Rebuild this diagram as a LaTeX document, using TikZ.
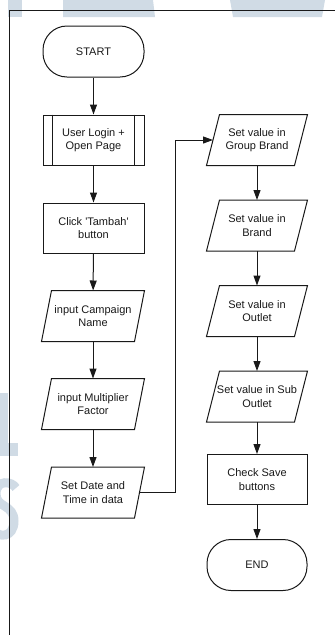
\documentclass[tikz,border=0pt]{standalone}
\usepackage{fontspec}
\setmainfont{Liberation Sans}
\usetikzlibrary{arrows.meta}
\definecolor{wmark}{RGB}{208,219,229}
\definecolor{ink}{RGB}{25,25,25}
\begin{document}
\begin{tikzpicture}[x=1pt,y=-1pt,
  fcline/.style={draw=ink, line width=1pt},
  fcbox/.style={fcline, font=\fontsize{11}{13.5}\selectfont, align=center,
    text=ink, inner sep=0pt},
  term/.style={fcbox, rectangle, rounded corners=24pt, minimum width=101pt, minimum height=51pt},
  proc/.style={fcbox, rectangle, minimum width=101pt, minimum height=50pt},
  io/.style={fcbox, draw=none, rectangle, minimum height=50pt},
  flow/.style={fcline, -{Triangle[length=10pt,width=7pt]}}]
\useasboundingbox (0,0) rectangle (335,635);

% faint background lettering
\begin{scope}
  \clip (0,0) rectangle (335,635);
  \fill[wmark] (8,0) rectangle (22,17);
  \fill[wmark] (63,0) -- (153,0) -- (155,17) -- (63,17) -- cycle;
  \fill[wmark] (230,0) -- (325,0) -- (322,17) -- (233,17) -- cycle;
  \fill[wmark] (0,393) rectangle (8,456);
  \fill[wmark] (0,443) rectangle (18,456);
  \draw[wmark, line width=9pt] (16,488) .. controls (12,481) and (-4,479) .. (-4,494)
     .. controls (-4,508) and (14,504) .. (14,521)
     .. controls (14,538) and (-2,538) .. (-6,530);
\end{scope}

% page frame
\draw[fcline, line width=0.8pt] (9,635) -- (9,10) -- (335,10);

% left column
\node[term] (start) at (93.5,51.5) {START};
\node[proc] (login) at (93.5,140) {User Login +\\Open Page};
\node[proc] (click) at (93.5,228) {Click \textquotesingle Tambah\textquotesingle\\button};
\node[io, minimum width=92pt] (camp) at (93,316) {input Campaign\\Name};
\node[io, minimum width=92pt] (mult) at (93,404) {input Multiplier\\Factor};
\node[io, minimum width=92pt] (date) at (93,492.5) {Set Date and\\Time in data};

% right column
\node[io, minimum width=87pt] (gb) at (257,140) {Set value in\\Group Brand};
\node[io, minimum width=87pt] (brand) at (257,225.5) {Set value in\\Brand};
\node[io, minimum width=87pt] (outlet) at (257,311) {Set value in\\Outlet};
\node[io, minimum width=87pt] (sub) at (257,396.5) {Set value in Sub\\Outlet};
\node[proc, minimum width=100pt] (check) at (257,479.5) {Check Save\\buttons};
\node[term, minimum width=100pt] (end) at (257,565) {END};

% predefined-process side bars
\draw[fcline] ([xshift=10pt]login.north west) -- ([xshift=10pt]login.south west);
\draw[fcline] ([xshift=-10pt]login.north east) -- ([xshift=-10pt]login.south east);

% input/output parallelograms
\foreach \n/\s in {camp/5,mult/5,date/5,gb/6.5,brand/6.5,outlet/6.5,sub/6.5}
  \draw[fcline] ([xshift=\s pt]\n.north west) -- ([xshift=\s pt]\n.north east)
    -- ([xshift=-\s pt]\n.south east) -- ([xshift=-\s pt]\n.south west) -- cycle;

% connectors
\draw[flow] (start) -- (login);
\draw[flow] (login) -- (click);
\draw[flow] (click) -- (camp);
\draw[flow] (camp) -- (mult);
\draw[flow] (mult) -- (date);
\coordinate (jog) at (175,492.5);
\draw[flow] (date.east) -- (jog) |- (gb.west);
\draw[flow] (gb) -- (brand);
\draw[flow] (brand) -- (outlet);
\draw[flow] (outlet) -- (sub);
\draw[flow] (sub) -- (check);
\draw[flow] (check) -- (end);
\end{tikzpicture}
\end{document}
